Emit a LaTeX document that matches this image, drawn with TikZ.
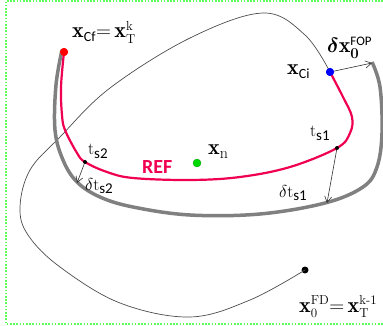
\documentclass[tikz,border=0pt]{standalone}
\usepackage{amsmath}
\usepackage{fontspec}
\setsansfont{Carlito}
\usetikzlibrary{arrows.meta}
\definecolor{refred}{RGB}{240,0,80}
\definecolor{frame}{RGB}{90,255,90}
\newcommand{\sz}[2]{\text{\fontsize{#1}{#1}\selectfont #2}}
\tikzset{
  lbl/.style={anchor=base west, inner sep=0pt},
  dotnode/.style={circle, inner sep=0pt, minimum size=#1},
  thinarrow/.style={draw=black!80, line width=0.6pt, -{Straight Barb[length=6pt,width=7pt]}},
}
\begin{document}
\begin{tikzpicture}[x=1pt,y=-1pt]
\useasboundingbox (0,0) rectangle (383,326);
% frame
\draw[frame, line width=2pt, dash pattern=on 1.6pt off 1.6pt] (383,1) -- (6,1) -- (6,324) -- (383,324);
% dots
\node[dotnode=7pt, fill=black] (fd) at (305,270) {};
\node[dotnode=8pt, fill=blue] (ci) at (330,72) {};
\node[dotnode=8pt, fill=red] (cf) at (64,52) {};
\node[dotnode=8pt, fill=green!85!black, draw=green!60!black, line width=0.3pt] (xn) at (197,163) {};
% thin FD trajectory
\draw[black!70, line width=0.7pt] plot[smooth, tension=0.6] coordinates {(fd.center) (250,300) (190,317) (120,303) (60,267) (28,235) (20,207) (30,170) (60,137) (110,88) (190,38) (263,13) (305,35) (ci.center)};
% gray thick boundary
\draw[gray, line width=3.5pt] plot[smooth, tension=0.6] coordinates {(62,50) (56,85) (55,130) (63,160) (77,182) (100,197) (133,207) (190,215) (260,214) (325,203) (363,187) (377,167) (382,133) (380,87) (372,62)};
% REF curve
\draw[refred, line width=2.2pt] plot[smooth, tension=0.6] coordinates {(cf.center) (61,87) (62,115) (65,130) (77,153) (85,162) (107,172) (133,178) (190,180) (240,177) (290,167) (337,148) (350,133) (352,117) (343,97) (ci.center)};
\node[dotnode=8pt, fill=blue] at (ci) {};
\node[dotnode=8pt, fill=red] at (cf) {};
% sample points
\node[dotnode=4pt, fill=black] (ts2) at (85,162) {};
\node[dotnode=4pt, fill=black] (ts1) at (337,148) {};
\coordinate (g2) at (77,183);
\coordinate (g1) at (327,203);
\coordinate (gtop) at (372,63);
\draw[thinarrow] (ts2) -- (g2);
\draw[thinarrow] (ts1) -- (g1);
\draw[thinarrow] (ci) -- (gtop);
% labels
\node[lbl] (lcf) at (72,38) {\fontsize{22}{22}\selectfont $\mathbf{x}_{\sz{14}{\sffamily Cf}}\mathbf{=}\,\mathbf{x}^{\sz{13}{k}}_{\sz{13}{T}}$};
\node[lbl] (lci) at (287,75) {\fontsize{22}{22}\selectfont $\mathbf{x}_{\sz{14}{\sffamily Ci}}$};
\node[lbl] (ldx) at (327,53) {\fontsize{22}{22}\selectfont $\boldsymbol{\delta}\mathbf{x}_{\sz{15}{\bfseries 0}}^{\sz{13}{\sffamily FOP}}$};
\node[lbl] (lxn) at (208,155) {\fontsize{22}{22}\selectfont $\mathbf{x}_{\sz{16}{n}}$};
\node[lbl, text=refred] (lref) at (142,174) {\fontsize{20}{20}\selectfont\sffamily\bfseries REF};
\node[lbl] (lts2) at (88,155) {\fontsize{17}{17}\selectfont $\mathrm{t}_{\sz{15}{\sffamily s2}}$};
\node[lbl] (ldts2) at (85,190) {\fontsize{17}{17}\selectfont $\delta\mathrm{t}_{\sz{15}{\sffamily s2}}$};
\node[lbl] (lts1) at (310,137) {\fontsize{17}{17}\selectfont $\mathrm{t}_{\sz{15}{\sffamily s1}}$};
\node[lbl] (ldts1) at (279,197) {\fontsize{17}{17}\selectfont $\delta\mathrm{t}_{\sz{15}{\sffamily s1}}$};
\node[lbl] (lfd) at (299,312) {\fontsize{22}{22}\selectfont $\mathbf{x}_{\sz{13}{0}}^{\sz{13}{FD}}\mathbf{=}\,\mathbf{x}^{\sz{13}{k-1}}_{\sz{13}{T}}$};
\end{tikzpicture}
\end{document}
